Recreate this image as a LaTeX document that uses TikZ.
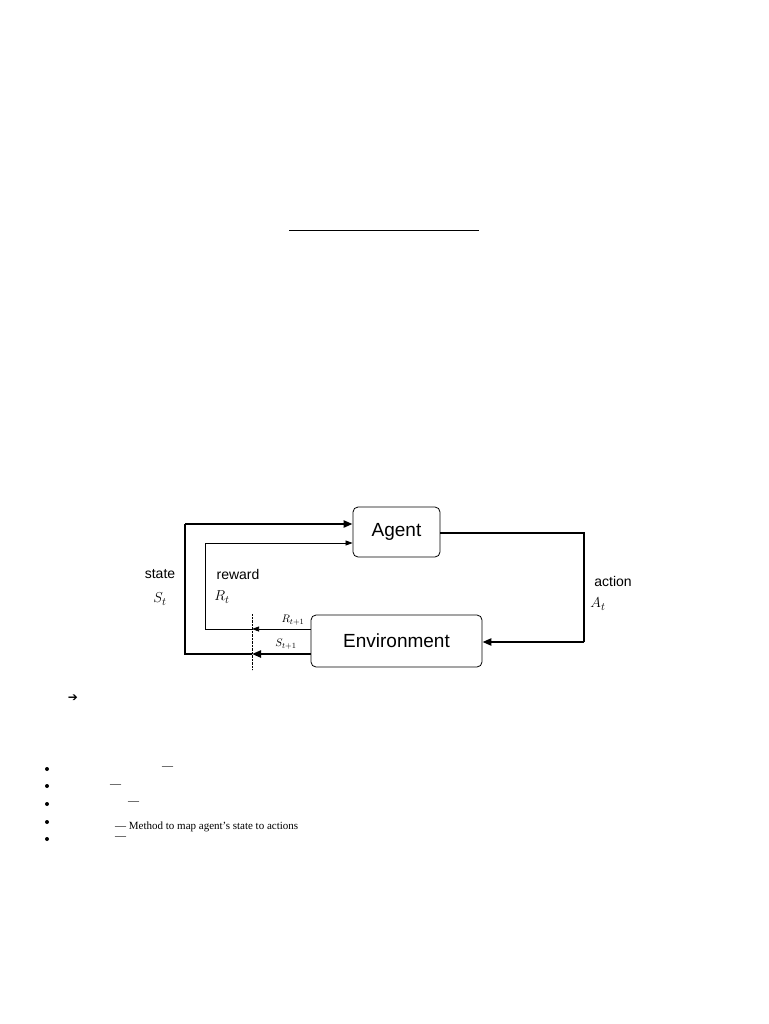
\documentclass[tikz,border=0pt]{standalone}
\usepackage{fontspec}
\setmainfont{Liberation Serif}
\newfontfamily\sansf{Liberation Sans}
\newfontfamily\djv{DejaVu Sans}
\usetikzlibrary{arrows.meta}
\begin{document}
\begin{tikzpicture}[x=1pt,y=-1pt,
  box/.style={draw,thick,rounded corners=5pt,inner sep=0pt,font=\sansf\fontsize{19}{22}\selectfont},
  thk/.style={line width=2.2pt,-{Triangle[length=9pt,width=7pt]}},
  thn/.style={line width=0.7pt,-{Triangle[length=7pt,width=5pt]}},
  lbl/.style={font=\sansf\fontsize{14}{16}\selectfont,inner sep=0pt},
  mth/.style={font=\fontsize{15}{17}\selectfont,inner sep=0pt},
  sml/.style={font=\fontsize{11}{13}\selectfont,inner sep=0pt},
  txt/.style={font=\fontsize{11}{13}\selectfont,inner sep=0pt,anchor=west}]
\useasboundingbox (0,0) rectangle (768,1024);
\draw[line width=0.8pt] (289,230) -- (479,230);
\node[box,minimum width=87pt,minimum height=50pt] (ag) at (396.5,532) {Agent};
\node[box,minimum width=171pt,minimum height=52pt] (env) at (396.5,641) {Environment};
\coordinate (d1) at (252,614); \coordinate (d2) at (252,670);
\draw[densely dotted] (d1) -- (d2);
\coordinate (s1) at (252,654); \coordinate (s2) at (185,654); \coordinate (s3) at (185,524);
\coordinate (r1) at (252,629); \coordinate (r2) at (205,629); \coordinate (r3) at (205,543);
\draw[thk] (env.west |- s1) -- (s1);
\draw[thn] (env.west |- r1) -- (r1);
\draw[line width=2.2pt] (s1) -- (s2) -- (s3);
\draw[thk] (s3) -- (ag.west |- s3);
\draw[line width=0.7pt] (r1) -- (r2) -- (r3);
\draw[thn] (r3) -- (ag.west |- r3);
\coordinate (a1) at (584,533); \coordinate (a2) at (584,642);
\draw[line width=2.2pt] (ag.east |- a1) -- (a1) -- (a2);
\draw[thk] (a2) -- (env.east |- a2);
\node[lbl] (ls) at (160,574) {state};
\node[mth] (lS) at (160,599) {$S_t$};
\node[lbl] (lr) at (238,574) {reward};
\node[mth] (lR) at (222,597) {$R_t$};
\node[lbl] (la) at (613,581) {action};
\node[mth] (lA) at (598,604) {$A_t$};
\node[sml] (lR1) at (293,620) {$R_{t+1}$};
\node[sml] (lS1) at (286,644) {$S_{t+1}$};
\node[font=\djv\fontsize{12}{14}\selectfont,inner sep=0pt] (arr) at (73,698) {➔};
\foreach \y/\n in {769/b1,786/b2,804/b3,822/b4,839/b5}
  \fill (47,\y) circle (2pt);
\node[txt] (t1) at (162,768) {—};
\node[txt] (t2) at (110,786) {—};
\node[txt] (t3) at (128,803) {—};
\node[txt] (t4) at (115,827) {— Method to map agent’s state to actions};
\node[txt] (t5) at (115,838) {—};
\end{tikzpicture}
\end{document}
